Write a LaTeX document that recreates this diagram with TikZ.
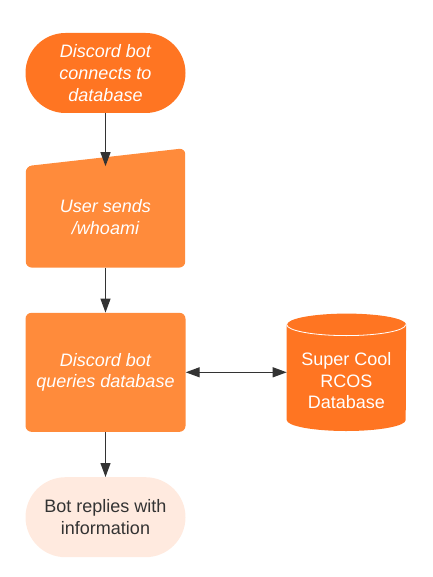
\documentclass[tikz,border=0pt]{standalone}
\usepackage{fontspec}
\setmainfont{Liberation Sans}
\usetikzlibrary{positioning,arrows.meta,backgrounds}
\definecolor{darkorange}{HTML}{FF7522}
\definecolor{lightorange}{HTML}{FF8B3B}
\definecolor{paleorange}{HTML}{FFEADF}
\definecolor{linegray}{HTML}{333333}
\newcommand{\flowfont}{\fontsize{18}{21.7}\selectfont}
\tikzstyle{flow}=[>={Triangle[length=14pt,width=10pt]},
                  every edge/.style={draw=linegray,line width=1.2pt,->}]
\tikzstyle{Abase}=[align=center,font=\flowfont]
\tikzstyle{Aital}=[text=white,font=\flowfont\itshape]
\tikzstyle{Aterm}=[Abase,rectangle,rounded corners=40pt,minimum width=160pt,
                   minimum height=80pt,inner sep=0pt]
\tikzstyle{Ainput}=[Abase,Aital,minimum width=159pt,minimum height=101pt]
\tikzstyle{Aproc}=[Abase,Aital,fill=lightorange,
                   rounded corners=6pt,minimum width=160pt,minimum height=119pt]
\tikzstyle{Adb}=[Abase,text=white,minimum width=119pt,minimum height=100pt]

\begin{document}
\begin{tikzpicture}[flow]
\path[use as bounding box] (0,0) rectangle (432pt,-577pt);

\node[Aterm,Aital,fill=darkorange] (start) at (105.5pt,-73pt)
{Discord bot\\connects to\\database};
\node[Ainput,below=53pt of start] (user) {User sends\\/whoami};
\node[Aproc,below=45pt of user] (query) {Discord bot\\queries database};
\node[Adb,right=101pt of query,yshift=-8.5pt] (db) {Super Cool\\RCOS\\Database};
\node[Aterm,fill=paleorange,text=linegray,below=45pt of query] (reply)
{Bot replies with\\information};

\begin{scope}[on background layer]
\fill[lightorange,rounded corners=6pt] (user.south west) -- (user.north west)
 -- ([yshift=18pt]user.north east) -- (user.south east) -- cycle;
\fill[darkorange] ([yshift=6pt]db.north west) -- ([yshift=11pt]db.south west)
 arc[start angle=180,end angle=360,x radius=59.5pt,y radius=11pt]
 -- ([yshift=6pt]db.north east)
 arc[start angle=0,end angle=180,x radius=59.5pt,y radius=11pt] -- cycle;
\draw[white,line width=0.8pt] ([yshift=6pt]db.north west)
 arc[start angle=180,end angle=360,x radius=59.5pt,y radius=11pt];
\end{scope}

\path
(start) edge (user)
(user) edge (query)
(query) edge (reply)
(query) edge[<->] (query -| db.west)
;
\end{tikzpicture}
\end{document}
